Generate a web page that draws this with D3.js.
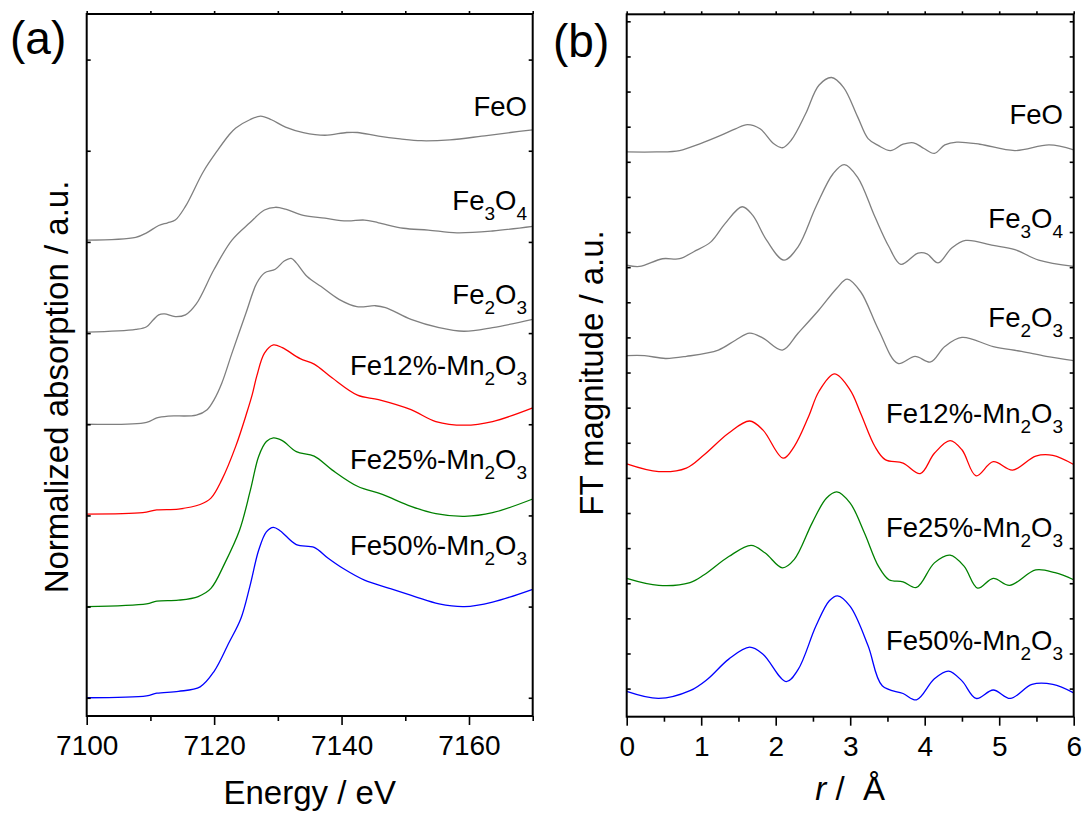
<!DOCTYPE html>
<html><head><meta charset="utf-8">
<script src="https://cdn.jsdelivr.net/npm/d3@7"></script>
<style>
body{margin:0;background:#fff}
svg{display:block}
text{font-family:Arial,"Liberation Sans",Helvetica,sans-serif;fill:#000}
</style>
</head><body>
<svg id="chart" width="1087" height="817"></svg>
<script>
// ---------------- DATA ----------------
// (a) Fe K-edge XANES, normalized absorption (before vertical offset)
const xanesFeO = [[7100,0.02],[7107.7,0.05],[7109.4,0.10],[7111.3,0.18],[7112.7,0.21],[7113.9,0.24],[7115.5,0.39],[7118.3,0.77],[7120.6,1.01],[7122.3,1.17],[7123.4,1.25],[7125.6,1.34],[7127.3,1.38],[7129,1.34],[7131.2,1.26],[7134,1.20],[7137.4,1.17],[7140.8,1.20],[7142.5,1.20],[7145.8,1.16],[7149.2,1.13],[7152.5,1.11],[7157,1.12],[7162,1.16],[7166.5,1.20],[7170,1.23]];
const xanesFe3O4 = [[7100,0.01],[7107.7,0.04],[7109.4,0.07],[7110.5,0.15],[7111.3,0.20],[7112.2,0.21],[7113.9,0.18],[7115.5,0.20],[7117.2,0.32],[7120,0.70],[7122.8,1.02],[7125.6,1.21],[7127.9,1.35],[7129.6,1.38],[7131.2,1.36],[7134,1.29],[7137.4,1.26],[7140.8,1.23],[7143.6,1.24],[7145.8,1.21],[7149.7,1.15],[7153.6,1.13],[7158.1,1.10],[7163.7,1.12],[7170,1.17]];
const xanesFe2O3 = [[7100,0],[7109.4,0.02],[7111,0.07],[7112.8,0.09],[7117.2,0.10],[7118.9,0.16],[7120,0.27],[7121.2,0.45],[7122.8,0.78],[7125,1.22],[7126.7,1.55],[7127.9,1.66],[7129.6,1.70],[7131,1.79],[7132.1,1.82],[7132.9,1.77],[7134.6,1.62],[7136.8,1.51],[7139.6,1.37],[7142.4,1.29],[7145.3,1.30],[7146.9,1.28],[7150.9,1.15],[7155.3,1.06],[7159.2,1.02],[7163.7,1.06],[7170,1.15]];
const xanesFe12 = [[7100,0.015],[7108.8,0.03],[7111,0.06],[7114.4,0.07],[7117.8,0.12],[7119.5,0.19],[7121.2,0.39],[7123.4,0.76],[7125.1,1.12],[7126,1.33],[7126.7,1.53],[7127.9,1.78],[7129.3,1.87],[7130.7,1.84],[7133.5,1.72],[7135.7,1.66],[7138.5,1.51],[7142.5,1.32],[7145.8,1.27],[7150.9,1.16],[7154.8,1.03],[7159.3,0.99],[7163.7,1.03],[7170,1.18]];
const xanesFe25 = [[7100,0],[7109.4,0.03],[7111,0.06],[7114.4,0.07],[7117.5,0.11],[7119.5,0.20],[7121.7,0.48],[7124,0.84],[7125.7,1.28],[7127,1.65],[7128.2,1.81],[7129.3,1.85],[7130.7,1.82],[7132.9,1.70],[7135.7,1.65],[7138.5,1.50],[7142.5,1.32],[7146.4,1.23],[7150.9,1.10],[7154.8,1.02],[7159.3,0.99],[7163.7,1.03],[7170,1.18]];
const xanesFe50 = [[7100,0],[7109.4,0.02],[7111,0.05],[7114.4,0.07],[7117.8,0.12],[7120,0.29],[7122.3,0.60],[7124.2,0.87],[7125.6,1.22],[7127,1.62],[7128.2,1.82],[7129.3,1.87],[7130.4,1.83],[7132.9,1.68],[7135.7,1.65],[7137.9,1.53],[7140.2,1.42],[7143.6,1.29],[7147.5,1.20],[7151.5,1.11],[7155.3,1.03],[7159.3,1.00],[7163.7,1.05],[7170,1.19]];

// (b) Fourier-transformed EXAFS magnitude (before vertical offset)
const ftFeO = [[0,0.24],[0.4,0.24],[0.71,0.26],[0.99,0.36],[1.27,0.48],[1.46,0.57],[1.62,0.63],[1.79,0.57],[1.97,0.36],[2.09,0.30],[2.21,0.41],[2.40,0.78],[2.58,1.19],[2.75,1.30],[2.91,1.16],[3.10,0.74],[3.24,0.43],[3.38,0.33],[3.54,0.26],[3.71,0.35],[3.85,0.37],[3.99,0.29],[4.13,0.22],[4.27,0.34],[4.43,0.38],[4.74,0.35],[5.21,0.26],[5.67,0.34],[6.0,0.27]];
const ftFe3O4 = [[0,0.23],[0.17,0.21],[0.48,0.32],[0.71,0.32],[0.90,0.42],[1.13,0.56],[1.32,0.82],[1.55,1.06],[1.69,0.94],[1.88,0.58],[2.11,0.30],[2.30,0.49],[2.54,1.06],[2.77,1.53],[2.92,1.66],[3.10,1.48],[3.33,0.92],[3.52,0.49],[3.68,0.24],[3.91,0.40],[4.03,0.39],[4.18,0.26],[4.36,0.47],[4.55,0.58],[4.92,0.51],[5.21,0.45],[5.53,0.30],[6.0,0.21]];
const ftFe2O3 = [[0,0.24],[0.24,0.24],[0.52,0.20],[0.80,0.23],[1.23,0.32],[1.46,0.46],[1.65,0.56],[1.83,0.49],[2.09,0.32],[2.30,0.56],[2.58,0.89],[2.82,1.20],[2.96,1.33],[3.14,1.15],[3.38,0.61],[3.64,0.13],[3.87,0.23],[4.08,0.15],[4.27,0.37],[4.50,0.50],[4.92,0.37],[5.30,0.30],[5.63,0.23],[6.0,0.17]];
const ftFe12 = [[0,0.20],[0.43,0.09],[0.80,0.14],[1.04,0.33],[1.37,0.64],[1.65,0.81],[1.83,0.68],[2.10,0.28],[2.25,0.45],[2.44,0.87],[2.58,1.23],[2.79,1.48],[3.0,1.25],[3.14,0.92],[3.33,0.45],[3.47,0.26],[3.71,0.21],[3.94,0.06],[4.13,0.35],[4.34,0.53],[4.50,0.40],[4.69,0.03],[4.92,0.23],[5.18,0.11],[5.49,0.31],[5.72,0.32],[6.0,0.19]];
const ftFe25 = [[0,0.17],[0.43,0.07],[0.85,0.11],[1.04,0.22],[1.37,0.48],[1.67,0.64],[1.86,0.53],[2.09,0.32],[2.25,0.44],[2.49,0.96],[2.68,1.31],[2.82,1.40],[3.0,1.24],[3.19,0.82],[3.38,0.34],[3.52,0.15],[3.71,0.12],[3.89,0.04],[4.13,0.39],[4.34,0.50],[4.53,0.34],[4.71,0.03],[4.92,0.17],[5.14,0.07],[5.49,0.29],[5.75,0.25],[6.0,0.15]];
const ftFe50 = [[0,0.16],[0.43,0.06],[0.85,0.17],[1.08,0.33],[1.37,0.62],[1.65,0.79],[1.83,0.69],[2.14,0.30],[2.30,0.47],[2.54,1.09],[2.72,1.45],[2.83,1.52],[3.0,1.37],[3.24,0.81],[3.43,0.24],[3.71,0.13],[3.89,0.04],[4.13,0.34],[4.32,0.45],[4.50,0.31],[4.69,0.06],[4.92,0.18],[5.15,0.06],[5.44,0.26],[5.72,0.26],[6.0,0.14]];

const seriesLabels = ["FeO","Fe_3O_4","Fe_2O_3","Fe12%-Mn_2O_3","Fe25%-Mn_2O_3","Fe50%-Mn_2O_3"];
const seriesColors = ["#7f7f7f","#7f7f7f","#7f7f7f","#ff0000","#008000","#0000ff"];
const xanesOffsets = [5,4,3,2,1,0];
const ftOffsets = [7.4,5.8,4.5,3.0,1.4,-0.2];

const energyTicksMajor = [7100,7120,7140,7160];
const energyTicksMinor = [7110,7130,7150,7170];
const rTicksMajor = [0,1,2,3,4,5,6];
const rTicksMinor = [0.5,1.5,2.5,3.5,4.5,5.5];
const xanesYTicks = [0,1,2,3,4,5,6,7];
const ftYTicks = [0,0.5,1,1.5,2,2.5,3,3.5,4,4.5,5,5.5,6,6.5,7,7.5,8,8.5,9,9.5];

const xanesSeries = [xanesFeO,xanesFe3O4,xanesFe2O3,xanesFe12,xanesFe25,xanesFe50];
const ftSeries = [ftFeO,ftFe3O4,ftFe2O3,ftFe12,ftFe25,ftFe50];

// ---------------- DRAW ----------------
const svg = d3.select("#chart");

function addLabel(g, str, x, y, size, subSize, subDy) {
  const t = g.append("text").attr("x", x).attr("y", y)
    .attr("text-anchor","end").style("font-size", size+"px");
  let i = 0, shifted = false;
  while (i < str.length) {
    if (str[i] === "_") {
      t.append("tspan").attr("dy", subDy).style("font-size", subSize+"px").text(str[i+1]);
      shifted = true; i += 2;
    } else {
      let j = i; while (j < str.length && str[j] !== "_") j++;
      const sp = t.append("tspan").text(str.slice(i,j));
      if (shifted) { sp.attr("dy", -subDy); shifted = false; }
      i = j;
    }
  }
}

function panel(cfg) {
  const g = svg.append("g");
  const x = d3.scaleLinear(cfg.xDomain, cfg.xRange);
  const y = d3.scaleLinear(cfg.yDomain, cfg.yRange);
  const [x0,x1] = cfg.xRange, [y0,y1] = cfg.yRange;

  cfg.series.forEach((s,k) => {
    const line = d3.line().x(d => x(d[0])).y(d => y(d[1] + cfg.offsets[k]))
      .curve(d3.curveCatmullRom.alpha(0.5));
    g.append("path").datum(s).attr("d", line)
      .attr("fill","none").attr("stroke", seriesColors[k]).attr("stroke-width",1.3);
  });

  const styleAxis = a => { a.select(".domain").remove(); a.selectAll("line").attr("stroke","#000").attr("stroke-width",1.6); };
  const bMaj = g.append("g").attr("transform",`translate(0,${y0})`)
    .call(d3.axisBottom(x).tickValues(cfg.xMajor).tickSize(9).tickSizeOuter(0).tickFormat(d3.format("d")));
  styleAxis(bMaj);
  bMaj.selectAll("text").style("font-size","28px").attr("dy","0.71em").attr("y",19);
  const bMin = g.append("g").attr("transform",`translate(0,${y0})`)
    .call(d3.axisBottom(x).tickValues(cfg.xMinor).tickSize(5).tickSizeOuter(0).tickFormat(""));
  styleAxis(bMin);
  const tAx = g.append("g").attr("transform",`translate(0,${y1})`)
    .call(d3.axisTop(x).tickValues(cfg.xMajor.concat(cfg.xMinor)).tickSize(3).tickSizeOuter(0).tickFormat(""));
  styleAxis(tAx);
  const lAx = g.append("g").attr("transform",`translate(${x0},0)`)
    .call(d3.axisLeft(y).tickValues(cfg.yTicks).tickSize(-4).tickSizeOuter(0).tickFormat(""));
  styleAxis(lAx);
  const rAx = g.append("g").attr("transform",`translate(${x1},0)`)
    .call(d3.axisRight(y).tickValues(cfg.yTicks).tickSize(-4).tickSizeOuter(0).tickFormat(""));
  styleAxis(rAx);

  g.append("rect").attr("x",x0).attr("y",y1).attr("width",x1-x0).attr("height",y0-y1)
    .attr("fill","none").attr("stroke","#000").attr("stroke-width",2);

  seriesLabels.forEach((s,k) => addLabel(g, s, cfg.labelX, cfg.labelY[k], 27.5, 19, 10));

  g.append("text").attr("transform",`translate(${cfg.yTitleX},${cfg.yTitleY}) rotate(-90)`)
    .attr("text-anchor","middle").style("font-size","33px").text(cfg.yTitle);
  cfg.xTitle(g.append("text").attr("x",(x0+x1)/2).attr("y",cfg.xTitleY)
    .attr("text-anchor","middle").style("font-size","33px"));
  g.append("text").attr("x",cfg.tagX).attr("y",cfg.tagY).style("font-size","46px").text(cfg.tag);
}

panel({
  xDomain:[7100,7170], xRange:[86.7,532.7],
  yDomain:[-0.2,7.5], yRange:[716,14],
  series: xanesSeries, offsets: xanesOffsets,
  xMajor: energyTicksMajor, xMinor: energyTicksMinor, yTicks: xanesYTicks,
  labelX: 527, labelY: [116,210,304,375,469,555],
  yTitle: "Normalized absorption / a.u.", yTitleX: 68, yTitleY: 387,
  xTitle: t => t.text("Energy / eV"), xTitleY: 804,
  tag: "(a)", tagX: 10, tagY: 54
});

panel({
  xDomain:[0,6], xRange:[626.7,1073.7],
  yDomain:[-0.4,9.6], yRange:[716.7,14.3],
  series: ftSeries, offsets: ftOffsets,
  xMajor: rTicksMajor, xMinor: rTicksMinor, yTicks: ftYTicks,
  labelX: 1063, labelY: [124,228,327,423,537,650],
  yTitle: "FT magnitude / a.u.", yTitleX: 603, yTitleY: 373,
  xTitle: t => { t.append("tspan").style("font-style","italic").text("r"); t.append("tspan").text(" /\u00A0\u00A0Å"); },
  xTitleY: 800,
  tag: "(b)", tagX: 553, tagY: 57
});
</script>
</body></html>
